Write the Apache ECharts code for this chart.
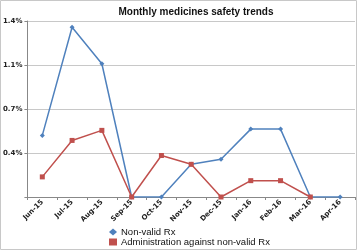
<!DOCTYPE html>
<html><head><meta charset="utf-8">
<script src="https://cdn.jsdelivr.net/npm/echarts@6/dist/echarts.min.js"></script>
<style>html,body{margin:0;padding:0;background:#fff}#c{width:358px;height:251px}</style>
</head><body><div id="c"></div>
<script>
const categories = ['Jun-15','Jul-15','Aug-15','Sep-15','Oct-15','Nov-15','Dec-15','Jan-16','Feb-16','Mar-16','Apr-16'];
const nonValidRx = [0.49, 1.35, 1.06, 0, 0, 0.26, 0.30, 0.54, 0.54, 0, 0];
const adminAgainstNonValid = [0.16, 0.45, 0.53, 0, 0.33, 0.26, 0, 0.13, 0.13, 0, null];
const seriesNames = ['Non-valid Rx', 'Administration against non-valid Rx'];
const yTicks = [0, 0.35, 0.7, 1.05, 1.4];

const chart = echarts.init(document.getElementById('c'), null, {renderer:'canvas'});
const font = 'Verdana, "DejaVu Sans", sans-serif';
const font2 = '"Liberation Sans", Arial, sans-serif';
chart.setOption({
  animation: false,
  graphic: [{type:'rect', shape:{x:0.5,y:0.5,width:356,height:249}, style:{fill:'none', stroke:'#c8c8c8', lineWidth:1}}],
  title: {text:'Monthly medicines safety trends', left:191, top:2, textAlign:'center',
    textStyle:{fontSize:10, fontWeight:'bold', color:'#111', fontFamily:font2}},
  grid: {left:27, right:3, top:21, bottom:54},
  legend: {orient:'vertical', left:104, top:222, height:40, itemGap:0, itemWidth:8, itemHeight:7,
    textStyle:{fontSize:9.5, color:'#111', fontFamily:font2, padding:[0,0,0,-1]},
    data:[{name:seriesNames[0], icon:'diamond'}, {name:seriesNames[1], icon:'rect'}]},
  xAxis: {type:'category', data:categories, boundaryGap:true,
    axisLine:{lineStyle:{color:'#888'}}, axisTick:{show:true, length:3, lineStyle:{color:'#888'}},
    axisLabel:{rotate:45, fontSize:7, fontWeight:'bold', color:'#222', margin:4, fontFamily:font}},
  yAxis: {type:'value', min:0, max:1.4, interval:0.35,
    axisLine:{show:true, lineStyle:{color:'#888'}}, axisTick:{show:true, length:3, lineStyle:{color:'#888'}},
    splitLine:{lineStyle:{color:'#c8c8c8'}},
    axisLabel:{fontSize:7, fontWeight:'bold', color:'#222', margin:5, fontFamily:font,
      formatter: v => v === 0 ? '' : (Math.round(v * 10) / 10).toFixed(1) + '%'}},
  series: [
    {name:seriesNames[0], type:'line', data:nonValidRx, symbol:'diamond', symbolSize:5,
      itemStyle:{color:'#4F81BD'}, lineStyle:{color:'#4F81BD', width:1.5}},
    {name:seriesNames[1], type:'line', data:adminAgainstNonValid, symbol:'rect', symbolSize:5,
      itemStyle:{color:'#C0504D'}, lineStyle:{color:'#C0504D', width:1.5}}
  ]
});
</script></body></html>
